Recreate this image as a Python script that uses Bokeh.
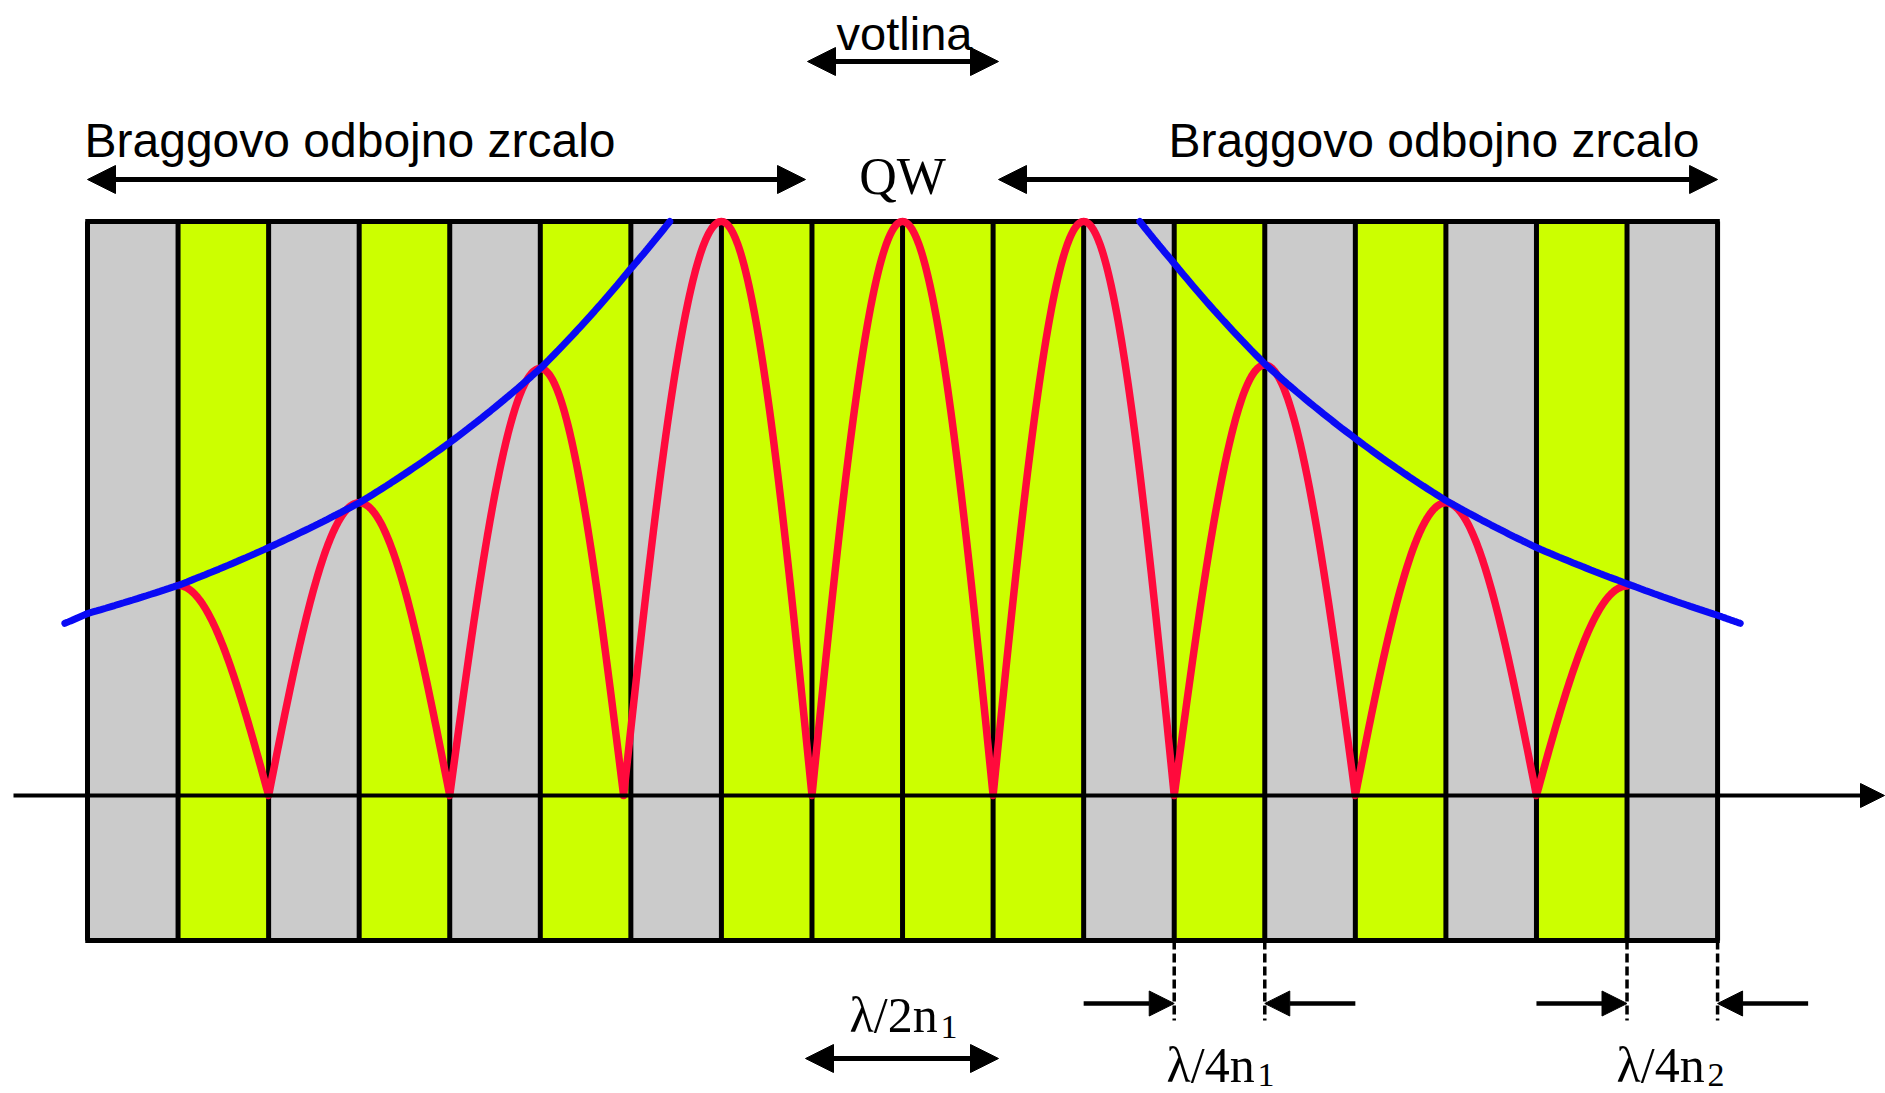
import numpy as np
from bokeh.plotting import figure
from bokeh.models import Range1d, Arrow, NormalHead
from bokeh.core.properties import value
from bokeh.embed import file_html
from bokeh.resources import INLINE

# ---------------- data ----------------
layer_material = ["n2", "n1", "n2", "n1", "n2", "n1", "n2", "n1", "n1",
                  "n1", "n1", "n2", "n1", "n2", "n1", "n2", "n1", "n2"]
material_colors = {"n1": "#ccff00", "n2": "#cbcbcb"}

# standing wave: peak positions (in layer units) and amplitudes, zero positions
peak_pos = [1, 3, 5, 7, 9, 11, 13, 15, 17]
peak_amp = [0.366, 0.51, 0.744, 1.0, 1.0, 1.0, 0.75, 0.51, 0.365]
zero_pos = [2, 4, 5.92, 8, 10, 12, 14, 16]

# decaying envelopes (blue)
env_left_x = [-0.25, 0, 1, 2, 3, 4, 5, 6, 6.43]
env_left_y = [0.30, 0.317, 0.366, 0.432, 0.51, 0.615, 0.744, 0.918, 1.0]
env_right_x = [11.62, 12, 13, 14, 15, 16, 17, 18, 18.25]
env_right_y = [1.0, 0.927, 0.752, 0.622, 0.514, 0.432, 0.369, 0.314, 0.30]

top_label = "votlina"
mirror_label = "Braggovo odbojno zrcalo"
qw_label = "QW"

# ---------------- layout helpers ----------------
X0, SX = 87.0, 90.56   # screen x of layer 0, px per layer
Y0, SY = 795.0, 574.0  # screen y of the axis, px per unit amplitude
W, H = 1885, 1093
TXT = -13              # vertical correction for text baselines


def px(X):
    return (X - X0) / SX


def py(Y):
    return (Y0 - Y) / SY


def ty(Y):
    return py(Y + TXT)


p = figure(width=W, height=H,
           x_range=Range1d(px(0), px(W)),
           y_range=Range1d(py(H), py(0)),
           output_backend="svg", toolbar_location=None,
           x_axis_type=None, y_axis_type=None, min_border=0)
p.outline_line_color = None
p.background_fill_color = "white"
p.border_fill_color = "white"

BOT = py(940)
n = len(layer_material)
left = list(range(n))
right = [i + 1 for i in left]
colors = [material_colors[m] for m in layer_material]
p.quad(left=left, right=right, top=[1.0] * n, bottom=[BOT] * n,
       fill_color=colors, line_color=None)

bounds = list(range(n + 1))
p.segment(x0=bounds, y0=[BOT] * (n + 1), x1=bounds, y1=[1.0] * (n + 1),
          line_color="black", line_width=5)
p.segment(x0=[-0.025, -0.025], y0=[1.0, BOT], x1=[n + 0.025, n + 0.025], y1=[1.0, BOT],
          line_color="black", line_width=5)

# axis with arrow
p.add_layout(Arrow(end=NormalHead(size=24, fill_color="black", line_color="black"),
                   x_start=px(13), y_start=0, x_end=px(1884), y_end=0,
                   line_color="black", line_width=4))

# red standing wave built from the read peaks and zeros
marks = sorted([(x, "p", a) for x, a in zip(peak_pos, peak_amp)] +
               [(x, "z", 0.0) for x in zero_pos])
xr, yr = [], []
t = np.linspace(0, 1, 80)
for (xa, ka, aa), (xb, kb, ab) in zip(marks[:-1], marks[1:]):
    xs = xa + t * (xb - xa)
    if ka == "p":
        ys = aa * np.cos(np.pi / 2 * t)
    else:
        ys = ab * np.sin(np.pi / 2 * t)
    xr.extend(xs.tolist())
    yr.extend(ys.tolist())
p.line(xr, yr, line_color="#ff0a3c", line_width=7.5, line_join="round", line_cap="round")


# blue envelopes: smooth (log-linear) path through the read points
def smooth(xp, yp, k=20):
    ox, oy = [], []
    for i in range(len(xp) - 1):
        s = np.linspace(0, 1, k, endpoint=(i == len(xp) - 2))
        ox.extend((xp[i] + s * (xp[i + 1] - xp[i])).tolist())
        oy.extend(np.exp(np.log(yp[i]) + s * (np.log(yp[i + 1]) - np.log(yp[i]))).tolist())
    return ox, oy


bx, by = smooth(env_left_x, env_left_y)
p.line(bx, by, line_color="#0a0af5", line_width=7, line_cap="round")
bx, by = smooth(env_right_x, env_right_y)
p.line(bx, by, line_color="#0a0af5", line_width=7, line_cap="round")


def darrow(x0, x1, y, size=28, lw=5):
    p.add_layout(Arrow(start=NormalHead(size=size, fill_color="black", line_color="black"),
                       end=NormalHead(size=size, fill_color="black", line_color="black"),
                       x_start=x0, y_start=y, x_end=x1, y_end=y,
                       line_color="black", line_width=lw))


def sarrow(x0, x1, y, size=25, lw=4.5):
    p.add_layout(Arrow(end=NormalHead(size=size, fill_color="black", line_color="black"),
                       x_start=x0, y_start=y, x_end=x1, y_end=y,
                       line_color="black", line_width=lw))


darrow(0, px(805), py(179))
darrow(px(998), n, py(179))
darrow(px(807), px(998), py(61))
darrow(px(805), px(998), py(1058))

ydim = py(1003)
sarrow(11, 12, ydim)
sarrow(14, 13, ydim)
sarrow(16, 17, ydim)
sarrow(19, 18, ydim)
dash_x = [12, 13, 17, 18]
p.segment(x0=dash_x, y0=[BOT] * 4, x1=dash_x, y1=[py(1020)] * 4,
          line_color="black", line_width=3.5, line_dash="9 4")

sans = value("Liberation Sans")
serif = value("Liberation Serif")

p.text(x=[px(904)], y=[ty(46)], text=[top_label], text_align="center",
       text_baseline="alphabetic", text_font=sans, text_font_size="47px",
       text_color="black")
p.text(x=[px(84), px(1168)], y=[ty(153), ty(153)], text=[mirror_label, mirror_label],
       text_align="left", text_baseline="alphabetic", text_font=sans,
       text_font_size="48px", text_color="black")
p.text(x=[px(902)], y=[ty(189)], text=[qw_label], text_align="center",
       text_baseline="alphabetic", text_font=serif, text_font_size="52px",
       text_color="black")

p.text(x=[px(849), px(1166), px(1616)], y=[ty(1027), ty(1077), ty(1077)],
       text=["λ/2n", "λ/4n", "λ/4n"], text_align="left", text_baseline="alphabetic",
       text_font=serif, text_font_size="50px", text_color="black")
p.text(x=[px(940), px(1257), px(1707)], y=[ty(1039), ty(1087), ty(1087)],
       text=["1", "1", "2"], text_align="left", text_baseline="alphabetic",
       text_font=serif, text_font_size="34px", text_color="black")

open("out.html", "w").write(file_html(p, INLINE))
